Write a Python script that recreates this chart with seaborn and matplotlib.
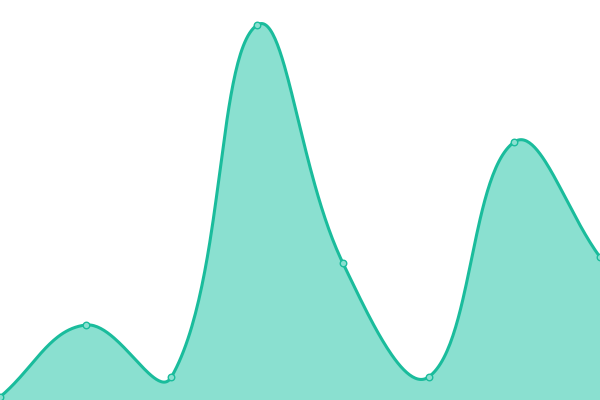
import numpy as np
import pandas as pd
import matplotlib
matplotlib.use("Agg")
import matplotlib.pyplot as plt
import seaborn as sns

# values (y axis 0..400)
x_idx = [0, 1, 2, 3, 4, 5, 6, 7]
values = [3, 75, 23, 375, 137, 23, 258, 143]

line_color = "#1abc9c"
fill_color = "#8ae0d0"


def spline_path(xs, ys, tension=0.4, steps=60):
    # bezier smoothing through the points (only used for drawing)
    # work in screen-like units: one x step = 600/7 px, one y unit = 1 px
    p = np.column_stack([np.asarray(xs, float) * 600 / 7, np.asarray(ys, float)])
    n = len(p)
    cp_prev = p.copy()
    cp_next = p.copy()
    for i in range(n):
        prev = p[i - 1] if i > 0 else p[i]
        nxt = p[i + 1] if i < n - 1 else p[i]
        d01 = np.hypot(*(p[i] - prev))
        d12 = np.hypot(*(nxt - p[i]))
        fa = tension * d01 / (d01 + d12)
        fb = tension * d12 / (d01 + d12)
        cp_prev[i] = p[i] - fa * (nxt - prev)
        cp_next[i] = p[i] + fb * (nxt - prev)
    t = np.linspace(0, 1, steps, endpoint=False)[:, None]
    out = []
    for i in range(n - 1):
        a, b, c, d = p[i], cp_next[i], cp_prev[i + 1], p[i + 1]
        out.append((1 - t) ** 3 * a + 3 * (1 - t) ** 2 * t * b
                   + 3 * (1 - t) * t ** 2 * c + t ** 3 * d)
    out.append(p[-1:])
    out = np.vstack(out)
    return out[:, 0] * 7 / 600, out[:, 1]


sx, sy = spline_path(x_idx, values)
curve = pd.DataFrame({"x": sx, "y": sy})
pts = pd.DataFrame({"x": x_idx, "y": values})

sns.set_style("white")
fig = plt.figure(figsize=(6, 4), dpi=100)
ax = fig.add_axes([0, 0, 1, 1])

ax.fill(np.r_[sx, sx[-1], sx[0]], np.r_[sy, 0, 0], color=fill_color, linewidth=0)
sns.lineplot(data=curve, x="x", y="y", ax=ax, color=line_color, linewidth=2.2,
             sort=False, estimator=None)
sns.scatterplot(data=pts, x="x", y="y", ax=ax, s=22, color=fill_color,
                edgecolor=line_color, linewidth=1, zorder=5)

ax.set_xlim(0, 7)
ax.set_ylim(0, 400)
ax.set_axis_off()

fig.savefig("out.png", dpi=100)
